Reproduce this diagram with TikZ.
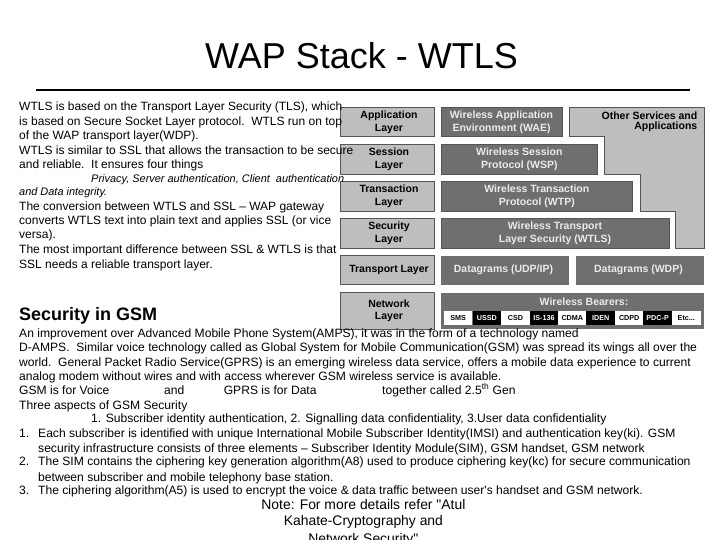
\documentclass[tikz,border=0pt]{standalone}
\usepackage{fontspec}
\setmainfont{Liberation Sans}[Ligatures=TeXOff]
\definecolor{lightbox}{HTML}{BEBEBE}
\definecolor{darkbox}{HTML}{6F6F6F}
\definecolor{edgebox}{HTML}{555555}
\tikzset{
 lbox/.style={draw=edgebox,line width=.7pt,fill=lightbox},
 dbox/.style={draw=edgebox,line width=.7pt,fill=darkbox},
 lname/.style={align=center,font=\fontsize{10.5}{12.5}\selectfont\bfseries,text=black,inner sep=0pt},
 dname/.style={align=center,font=\fontsize{10.5}{12.5}\selectfont\bfseries,text=white!92!black,inner sep=0pt},
 cell/.style={minimum height=14pt,minimum width=28.5pt,inner sep=0pt,font=\fontsize{7.2}{8}\selectfont\bfseries},
 wcell/.style={cell,fill=white,text=black},
 bcell/.style={cell,fill=black,text=white},
 ln/.style={anchor=base west,inner sep=0pt,font=\fontsize{12}{14}\selectfont},
 it/.style={anchor=base west,inner sep=0pt,font=\fontsize{10.95}{13}\selectfont\itshape},
 gs/.style={anchor=base west,inner sep=0pt,font=\fontsize{12.1}{14}\selectfont},
 nt/.style={anchor=base,inner sep=0pt,font=\fontsize{13.9}{16}\selectfont},
}
\begin{document}
\begin{tikzpicture}[x=1pt,y=-1pt]
\useasboundingbox[fill=white] (0,0) rectangle (720,540);
\clip (0,0) rectangle (720,540);
\node[anchor=base,inner sep=0pt,font=\fontsize{36}{40}\selectfont] (title) at (361.5,68.5) {WAP Stack - WTLS};
\coordinate (ruleL) at (36,90);
\coordinate (ruleR) at (690,90);
\draw[line width=2.6pt,black] (ruleL) -- (ruleR);
% stack
\draw[lbox] (569,107.7) -- (704,107.7) -- (704,248) -- (675,248) -- (675,211) -- (640,211) -- (640,174) -- (604,174) -- (604,136.7) -- (569,136.7) -- cycle;
\node[anchor=north east,align=right,inner sep=0pt,font=\fontsize{10.5}{10}\selectfont\bfseries] (other) at (697.5,111.5) {Other Services and\\Applications};
\foreach \nm/\ya/\yb/\txt in {app/107.7/136.7/{Application\\Layer},ses/144.7/174/{Session\\Layer},tra/181.7/211/{Transaction\\Layer},sec/218.3/248/{Security\\Layer},net/292.7/329/{Network\\Layer}}{
  \draw[lbox] (340,\ya) rectangle (434,\yb);
  \node[lname] (\nm) at (389,{(\ya+\yb)/2}) {\txt};
}
\draw[lbox] (340,255.7) rectangle (434,284.7);
\node[lname] (trn) at (389,270) {Transport Layer};
\foreach \nm/\ya/\yb/\xb/\txt in {wae/107.7/136.7/562/{Wireless Application\\Environment (WAE)},wsp/144.7/174/597.7/{Wireless Session\\Protocol (WSP)},wtp/181.7/211/632.7/{Wireless Transaction\\Protocol (WTP)},wtl/218.3/248/669/{Wireless Transport\\Layer Security (WTLS)}}{
  \draw[dbox] (441,\ya) rectangle (\xb,\yb);
  \node[dname] (\nm) at ({(441+\xb)/2},{(\ya+\yb)/2}) {\txt};
}
\fill[darkbox] (441,255.7) rectangle (569,284.7);
\node[dname] (udp) at (503.5,270) {Datagrams (UDP/IP)};
\fill[darkbox] (576,255.7) rectangle (704,284.7);
\node[dname] (wdp) at (638.5,270) {Datagrams (WDP)};
\fill[darkbox] (441,292.7) rectangle (704,329);
\node[dname] (bea) at (584,301.5) {Wireless Bearers:};
\node[wcell] (c1) at (458.2,318) {SMS};
\node[bcell] (c2) at (486.8,318) {USSD};
\node[wcell] (c3) at (515.4,318) {CSD};
\node[bcell] (c4) at (543.9,318) {IS-136};
\node[wcell] (c5) at (572.3,318) {CDMA};
\node[bcell] (c6) at (600.7,318) {IDEN};
\node[wcell] (c7) at (629.2,318) {CDPD};
\node[bcell] (c8) at (657.6,318) {PDC-P};
\node[wcell] (c9) at (686.3,318) {Etc...};
% upper text
\node[ln] (t1) at (19,111) {WTLS is based on the Transport Layer Security (TLS), which};
\node[ln] (t2) at (19,125.7) {is based on Secure Socket Layer protocol.\ \ WTLS run on top};
\node[ln] (t3) at (19,140) {of the WAP transport layer(WDP).};
\node[ln] (t4) at (19,154.3) {WTLS is similar to SSL that allows the transaction to be secure};
\node[ln] (t5) at (19,168.3) {and reliable.\ \ It ensures four things};
\node[it] (t6) at (91,182.3) {Privacy, Server authentication, Client\ \ authentication};
\node[it] (t7) at (19,196) {and Data integrity.};
\node[ln] (t8) at (19,211) {The conversion between WTLS and SSL – WAP gateway};
\node[ln] (t9) at (19,225) {converts WTLS text into plain text and applies SSL (or vice};
\node[ln] (t10) at (19,239) {versa).};
\node[ln] (t11) at (19,254) {The most important difference between SSL \& WTLS is that};
\node[ln] (t12) at (19,268) {SSL needs a reliable transport layer.};
% lower text
\node[anchor=base west,inner sep=0pt,font=\fontsize{18}{20}\selectfont\bfseries] (h) at (19,320.7) {Security in GSM};
\node[gs] (g1) at (19,337) {An improvement over Advanced Mobile Phone System(AMPS), it was in the form of a technology named};
\node[gs] (g2) at (19,351.7) {D-AMPS.\ \ Similar voice technology called as Global System for Mobile Communication(GSM) was spread its wings all over the};
\node[gs] (g3) at (19,366) {world.\ \ General Packet Radio Service(GPRS) is an emerging wireless data service, offers a mobile data experience to current};
\node[gs] (g4) at (19,380) {analog modem without wires and with access wherever GSM wireless service is available.};
\node[gs] (g5a) at (19,394) {GSM is for Voice};
\node[gs] (g5b) at (164,394) {and};
\node[gs] (g5c) at (223.6,394) {GPRS is for Data};
\node[gs] (g5d) at (382,394) {together called 2.5\textsuperscript{th} Gen};
\node[gs] (g6) at (19,409) {Three aspects of GSM Security};
\node[gs] (g7) at (91,422.7) {1. Subscriber identity authentication, 2. Signalling data confidentiality, 3.User data confidentiality};
\node[gs] (n1) at (19,437.7) {1.};
\node[gs] (g8) at (38,437.7) {Each subscriber is identified with unique International Mobile Subscriber Identity(IMSI) and authentication key(ki). GSM};
\node[gs] (g9) at (38,452) {security infrastructure consists of three elements – Subscriber Identity Module(SIM), GSM handset, GSM network};
\node[gs] (n2) at (19,465.7) {2.};
\node[gs] (g10) at (38,465.7) {The SIM contains the ciphering key generation algorithm(A8) used to produce ciphering key(kc) for secure communication};
\node[gs] (g11) at (38,481) {between subscriber and mobile telephony base station.};
\node[gs] (n3) at (19,494.3) {3.};
\node[gs] (g12) at (38,494.3) {The ciphering algorithm(A5) is used to encrypt the voice \& data traffic between user's handset and GSM network.};
\node[nt] (m1) at (363.4,509) {Note: For more details refer "Atul};
\node[nt] (m2) at (363.4,525.7) {Kahate-Cryptography and};
\node[nt] (m3) at (363.4,543) {Network Security"};
\end{tikzpicture}
\end{document}
